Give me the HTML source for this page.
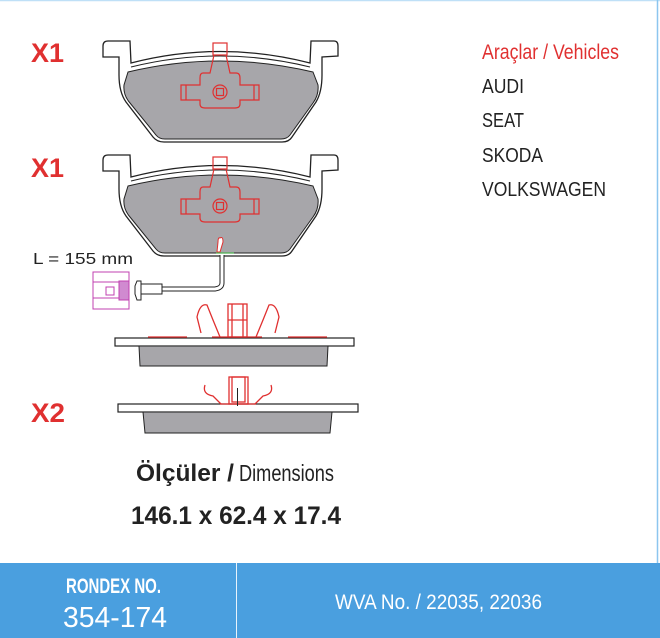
<!DOCTYPE html>
<html><head><meta charset="utf-8"><style>
html,body{margin:0;padding:0;background:#fff;}
svg{display:block;}
text{font-family:"Liberation Sans",sans-serif;}
</style></head><body>
<svg width="660" height="638" viewBox="0 0 660 638" xmlns="http://www.w3.org/2000/svg">
<rect x="0" y="0" width="660" height="638" fill="#fff"/>
<line x1="0" y1="0.5" x2="660" y2="0.5" stroke="#bfe0f7" stroke-width="1.5"/>
<line x1="657.5" y1="0" x2="657.5" y2="563" stroke="#8cc6ef" stroke-width="1.5"/>

<!-- Pad 1 -->
<g id="pad">
<path d="M103,46 Q103,41 108,41 L130,41 L131,63 Q220,40 310,63 L311,41 L334,41 Q338,41 338,46 L338,56 L322,57 L322,75 Q322,92 316,102 L292,137 Q289,142 282,142 L164,142 Q157,142 153,137 L126,102 Q119,92 119,75 L119,57 L103,57 Z" fill="#fff" stroke="#222" stroke-width="1.3"/>
<path d="M131,67 Q220,45 310,67" fill="none" stroke="#222" stroke-width="1"/>
<path d="M128,72 Q220,50 313,72 L318,85 Q319,95 313,103 L290,135 Q287,139 281,139 L165,139 Q159,139 156,135 L130,103 Q123,95 124,85 Z" fill="#a7a6aa" stroke="#222" stroke-width="1"/>
<g fill="none" stroke="#e03030" stroke-width="1.2">
<rect x="213" y="43" width="14" height="12"/>
<path d="M214,55 L210,73 L203,73 Q200,73 200,78 L200,85 L181,85 L181,100 L200,100 L200,104 Q200,108 205,108 L235,108 Q240,108 240,104 L240,100 L259,100 L259,85 L240,85 L240,78 Q240,73 236,73 L230,73 L226,55"/>
<line x1="186" y1="85" x2="186" y2="100"/><line x1="254" y1="85" x2="254" y2="100"/>
<circle cx="220" cy="92" r="7"/><rect x="216.5" y="88.5" width="7" height="7"/>
</g>
</g>
<use href="#pad" transform="translate(0,114)"/>

<!-- sensor -->
<path d="M220,238 Q223,236 223,242 L220,252 L217,252 L218,242 Q218,237 220,238 Z" fill="#fff" stroke="#e03030" stroke-width="1"/>
<line x1="216" y1="253" x2="234" y2="253" stroke="#4caf50" stroke-width="1.3"/>
<path d="M222,255 L222,283 Q222,288 215,289 L162,289" fill="none" stroke="#222" stroke-width="5"/>
<path d="M222,255 L222,283 Q222,288 215,289 L162,289" fill="none" stroke="#fff" stroke-width="3"/>
<rect x="141" y="284" width="21" height="10" fill="#fff" stroke="#222" stroke-width="1"/>
<path d="M141,281 L137,281 L135,286 L135,294 L137,300 L141,300 Z" fill="#fff" stroke="#222" stroke-width="1"/>
<g fill="none" stroke="#c040b0" stroke-width="1">
<rect x="93" y="272" width="36" height="37"/>
<line x1="93" y1="282" x2="129" y2="282"/><line x1="93" y1="298" x2="129" y2="298"/>
<rect x="119" y="281" width="10" height="19" fill="#d08ad0"/>
<rect x="106" y="287" width="8" height="8"/>
</g>

<!-- side view 1 -->
<rect x="115" y="338" width="239" height="8" fill="#fff" stroke="#222" stroke-width="1.2"/>
<path d="M139,346 L328,346 L327,366 L140,366 Z" fill="#a7a6aa" stroke="#222" stroke-width="1"/>
<g stroke="#e03030" stroke-width="1.3" fill="none">
<line x1="148" y1="337" x2="187" y2="337"/><line x1="212" y1="337" x2="262" y2="337"/><line x1="288" y1="337" x2="327" y2="337"/>
<rect x="228" y="304" width="19" height="33"/><line x1="228" y1="320" x2="247" y2="320"/><line x1="232" y1="304" x2="232" y2="337"/><line x1="243" y1="304" x2="243" y2="337"/>
<path d="M201,333 L197,317 Q200,303 207,305 L213,320 L220,337"/>
<path d="M275,333 L279,317 Q276,303 269,305 L263,320 L256,337"/>
</g>

<!-- side view 2 -->
<rect x="118" y="404" width="240" height="8" fill="#fff" stroke="#222" stroke-width="1.2"/>
<path d="M143,412 L332,412 L330,433 L145,433 Z" fill="#a7a6aa" stroke="#222" stroke-width="1"/>
<g stroke="#e03030" stroke-width="1.3" fill="none">
<rect x="229" y="377" width="19" height="27"/><rect x="232" y="377" width="13" height="25"/>
<path d="M205,385 Q202,394 213,396 L221,404"/>
<path d="M271,385 Q274,394 263,396 L255,404"/>
<line x1="220" y1="404" x2="256" y2="404"/>
</g>
<line x1="237.5" y1="388" x2="237.5" y2="406" stroke="#222" stroke-width="1"/>

<!-- labels -->
<text x="31" y="62" font-size="27" font-weight="bold" fill="#e03030" textLength="33" lengthAdjust="spacingAndGlyphs">X1</text>
<text x="31" y="177" font-size="27" font-weight="bold" fill="#e03030" textLength="33" lengthAdjust="spacingAndGlyphs">X1</text>
<text x="31" y="422" font-size="27" font-weight="bold" fill="#e03030" textLength="34" lengthAdjust="spacingAndGlyphs">X2</text>
<text x="33" y="264" font-size="16" fill="#222" textLength="100" lengthAdjust="spacingAndGlyphs">L = 155 mm</text>

<text x="482" y="59" font-size="21" fill="#e03030" textLength="137" lengthAdjust="spacingAndGlyphs">Araçlar / Vehicles</text>
<text x="482" y="93" font-size="20" fill="#222" textLength="42" lengthAdjust="spacingAndGlyphs">AUDI</text>
<text x="482" y="127" font-size="20" fill="#222" textLength="42" lengthAdjust="spacingAndGlyphs">SEAT</text>
<text x="482" y="162" font-size="20" fill="#222" textLength="61" lengthAdjust="spacingAndGlyphs">SKODA</text>
<text x="482" y="196" font-size="20" fill="#222" textLength="124" lengthAdjust="spacingAndGlyphs">VOLKSWAGEN</text>

<text x="136" y="481" font-size="24" font-weight="bold" fill="#222" textLength="98" lengthAdjust="spacingAndGlyphs">Ölçüler /</text>
<text x="239" y="481" font-size="23" fill="#222" textLength="95" lengthAdjust="spacingAndGlyphs">Dimensions</text>
<text x="131" y="524" font-size="25" font-weight="bold" fill="#222" textLength="210" lengthAdjust="spacingAndGlyphs">146.1 x 62.4 x 17.4</text>

<!-- bottom bar -->
<rect x="0" y="563" width="660" height="75" fill="#4a9fdf"/>
<line x1="236.5" y1="563" x2="236.5" y2="638" stroke="#e8f3fc" stroke-width="1"/>
<text x="66" y="593" font-size="21" font-weight="bold" fill="#fff" textLength="95" lengthAdjust="spacingAndGlyphs">RONDEX NO.</text>
<text x="63" y="627" font-size="29" fill="#fff" textLength="104" lengthAdjust="spacingAndGlyphs">354-174</text>
<text x="335" y="609" font-size="21" fill="#fff" textLength="207" lengthAdjust="spacingAndGlyphs">WVA No. / 22035, 22036</text>
</svg>
</body></html>
